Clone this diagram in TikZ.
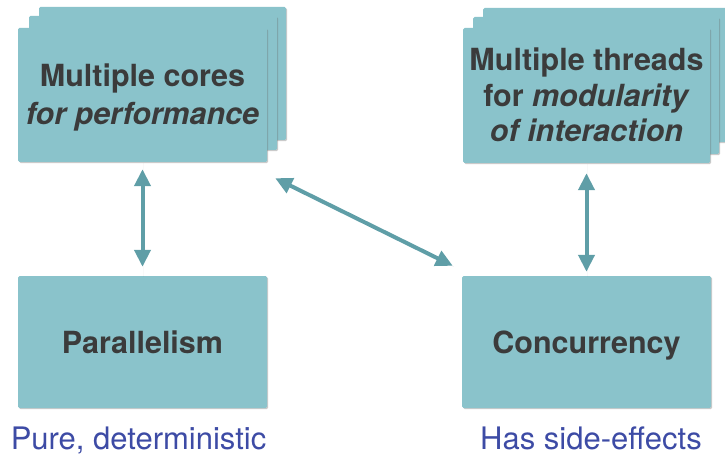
\documentclass[tikz,border=0pt]{standalone}
\usepackage{fontspec}
\setmainfont{TeX Gyre Heros}
\usetikzlibrary{arrows.meta,shadows,calc}
\definecolor{boxfill}{HTML}{8AC3CB}
\definecolor{arrowcol}{HTML}{5F9EA7}
\definecolor{txtdark}{HTML}{3B3B3B}
\definecolor{txtblue}{HTML}{3D4BA5}
\tikzset{
  card/.style={fill=boxfill, draw=none, rounded corners=1.5pt,
    drop shadow={shadow xshift=1.2pt, shadow yshift=-1.2pt, opacity=0.35, fill=black!60}},
  boxtext/.style={text=txtdark, align=center, anchor=base, inner sep=0pt},
  labeltext/.style={text=txtblue, anchor=base, inner sep=0pt, font=\fontsize{31}{36}\selectfont},
  link/.style={draw=arrowcol, line width=4pt,
    {Triangle[width=16pt,length=17pt]}-{Triangle[width=16pt,length=17pt]},
    drop shadow={shadow xshift=1pt, shadow yshift=-1pt, opacity=0.3, fill=black!60}}
}
\begin{document}
\begin{tikzpicture}[x=1pt,y=-1pt]
\useasboundingbox (0,0) rectangle (725,457);
% left stack
\path[card] (39,7) rectangle (286,140);
\path[card] (29,16) rectangle (277,150);
\node[card, minimum width=249pt, minimum height=134pt, inner sep=0pt] (cores) at (142.5,95) {};
\node[boxtext, font=\fontsize{30.5}{38}\selectfont\bfseries] (corestxt) at (142.5,125) {Multiple cores\\\textit{for performance}};
% right stack
\path[card] (483,8) rectangle (735,142);
\path[card] (473,17) rectangle (719,154);
\node[card, minimum width=247pt, minimum height=135pt, inner sep=0pt] (threads) at (586.5,95.5) {};
\node[boxtext, font=\fontsize{30.5}{35.5}\selectfont\bfseries] (threadstxt) at (586.5,142) {Multiple threads\\for \textit{modularity}\\\textit{of interaction}};
% bottom boxes
\node[card, minimum width=249pt, minimum height=132pt, inner sep=0pt] (par) at (142.5,342) {};
\node[boxtext, font=\fontsize{30.5}{36}\selectfont\bfseries] (partxt) at (142.5,353) {Parallelism};
\node[card, minimum width=249pt, minimum height=132pt, inner sep=0pt] (conc) at (586.5,342) {};
\node[boxtext, font=\fontsize{30.5}{36}\selectfont\bfseries] (conctxt) at (586.5,353) {Concurrency};
% labels
\node[labeltext] (pure) at (138.5,449.5) {Pure, deterministic};
\node[labeltext] (side) at (591,449.5) {Has side-effects};
% arrows
\draw[link, shorten <=7pt, shorten >=9pt] (cores.south) -- (par.north);
\draw[link, shorten <=10pt, shorten >=4pt] (threads.south) -- (conc.north);
\draw[link] ($(cores.south east)+(8,16)$) -- ($(conc.north west)+(-9,-10)$);
\end{tikzpicture}
\end{document}
